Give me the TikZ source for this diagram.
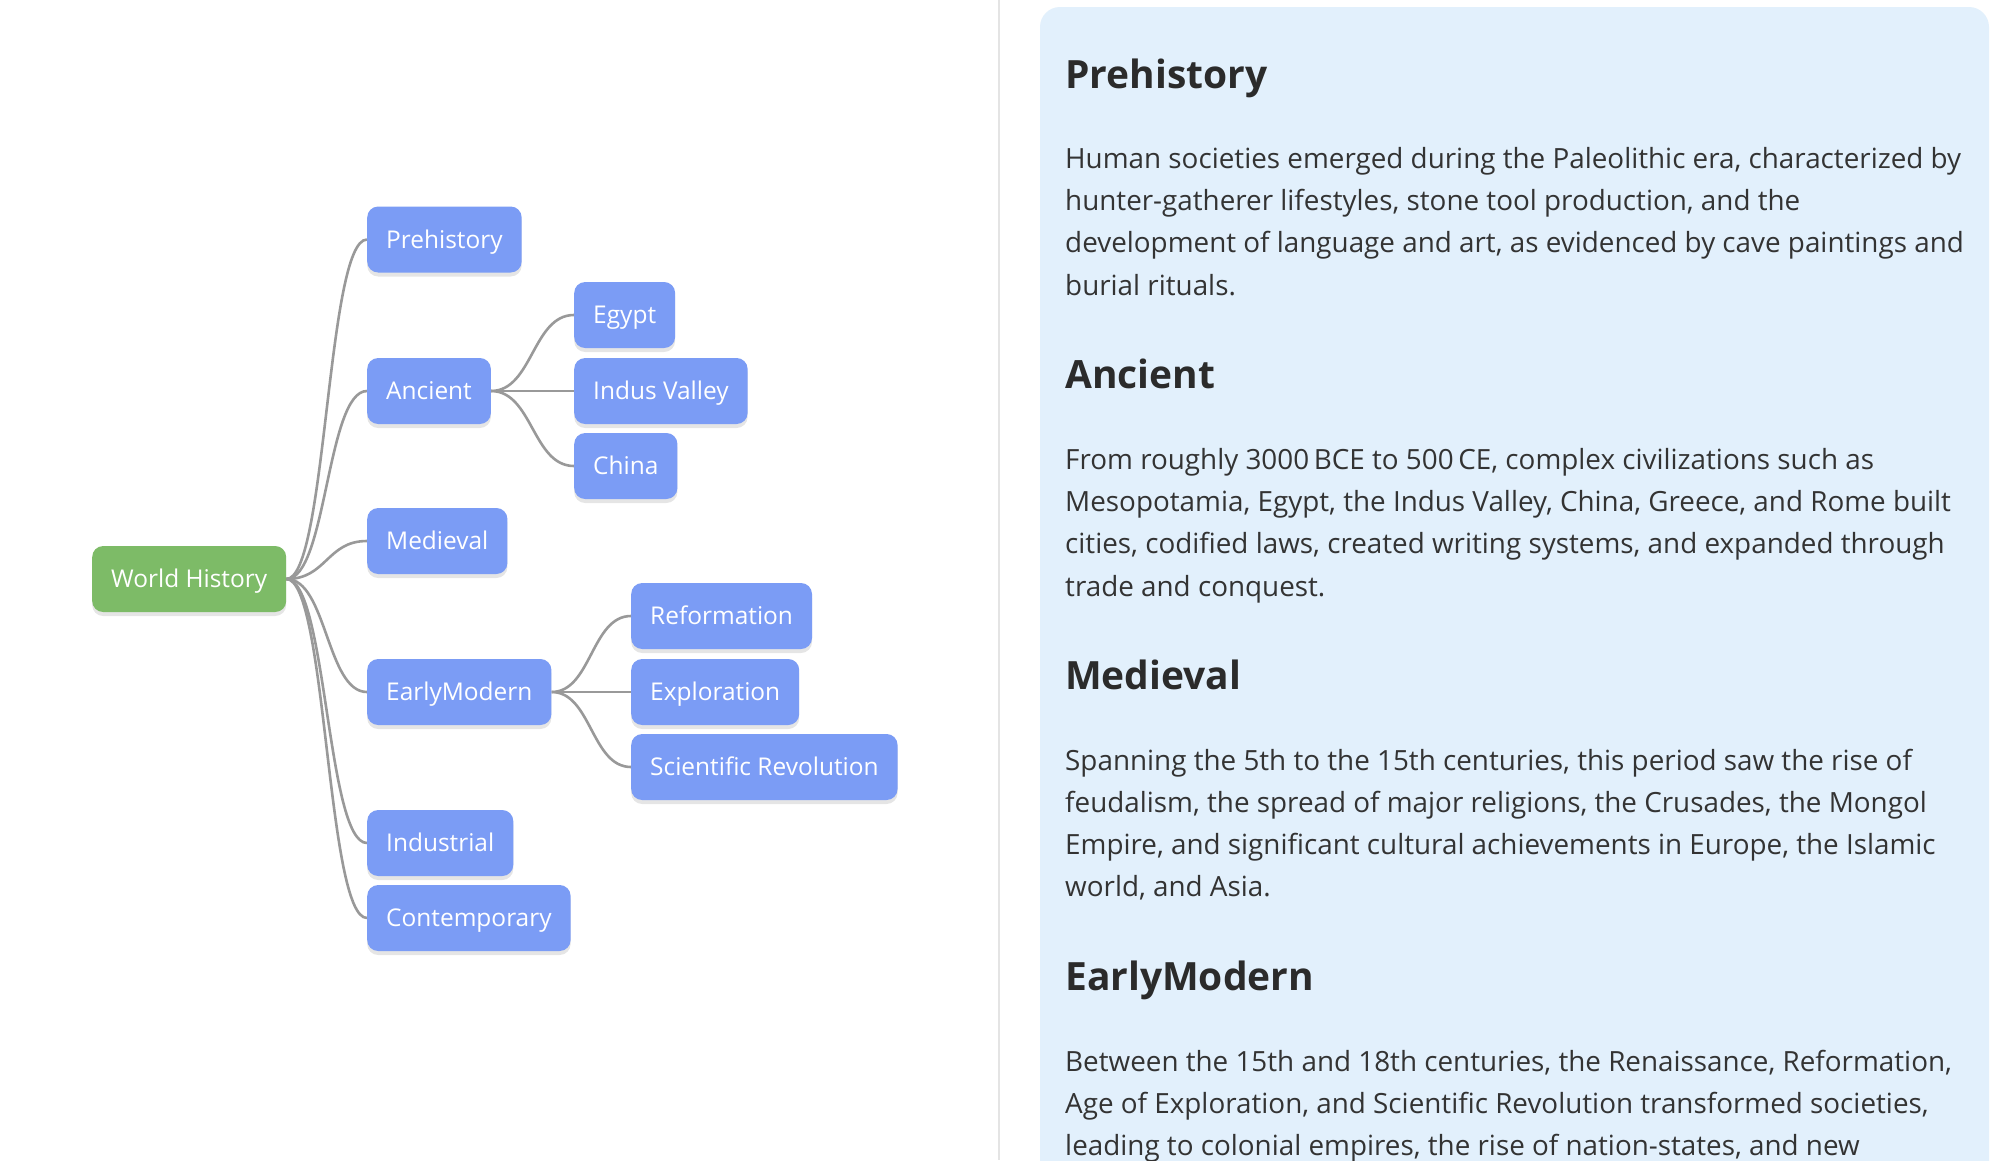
\documentclass[tikz,border=0pt]{standalone}
\usepackage{fontspec}
\setmainfont{Open Sans}
\usetikzlibrary{calc,shadows,backgrounds}
\newlength\mmtmp
\definecolor{nodeblue}{HTML}{7B9CF5}
\definecolor{rootgreen}{HTML}{7DBB67}
\definecolor{panelblue}{HTML}{E2F0FC}
\definecolor{edgegray}{HTML}{999999}
\definecolor{txt}{HTML}{333333}
\definecolor{headc}{HTML}{2B2B2B}
\definecolor{divider}{HTML}{E4E4E4}
\tikzset{
  mmnode/.style={anchor=west, rounded corners=11pt, minimum height=66pt,
    inner xsep=19pt, inner ysep=0pt, text height=\nodecap pt, text depth=0pt,
    text=white, fill=nodeblue, font=\fontsize{\nodesize pt}{\nodesize pt}\selectfont,
    drop shadow={shadow xshift=0pt, shadow yshift=-4pt, opacity=0.10, fill=black}},
  rootnode/.style={mmnode, fill=rootgreen},
  edge/.style={draw=edgegray, line width=2.6pt},
  headtxt/.style={anchor=base west, inner sep=0pt, text=headc,
    font=\fontsize{\headsize pt}{\headsize pt}\selectfont\bfseries},
  bodytxt/.style={anchor=base west, inner sep=0pt, text=txt,
    font=\fontsize{\bodysize pt}{\bodysize pt}\selectfont}
}
\newcommand\mmlink[2]{\draw[edge] let \p1=(#1.east), \p2=(#2.west) in
  (\p1) .. controls ({(\x1+\x2)/2},\y1) and ({(\x1+\x2)/2},\y2) .. (\p2);}
\begin{document}
\settowidth\mmtmp{\fontsize{24pt}{24pt}\selectfont World History}%
\pgfmathsetmacro\nodesize{156/\mmtmp*24}%
\pgfmathsetmacro\nodecap{0.714*\nodesize}%
\settowidth\mmtmp{\fontsize{40pt}{40pt}\selectfont\bfseries Prehistory}%
\pgfmathsetmacro\headsize{202/\mmtmp*40}%
\settowidth\mmtmp{\fontsize{24pt}{24pt}\selectfont Human societies emerged during the Paleolithic era, characterized by}%
\pgfmathsetmacro\bodysize{896/\mmtmp*24}%
\begin{tikzpicture}[x=1pt,y=-1pt]
\useasboundingbox (0,0) rectangle (2000,1160);
\clip (0,0) rectangle (2000,1160);
% divider and panel
\draw[divider, line width=2pt] (999,0) -- (999,1160);
\fill[panelblue, rounded corners=20pt] (1040,7) rectangle (1989,1240);
% mind map nodes
\node[rootnode] (root) at (92,579) {World History};
\node[mmnode] (pre) at (367,239.5) {Prehistory};
\node[mmnode] (anc) at (367,391) {Ancient};
\node[mmnode] (egy) at (574,315) {Egypt};
\node[mmnode] (ind) at (574,391) {Indus Valley};
\node[mmnode] (chi) at (574,466) {China};
\node[mmnode] (med) at (367,541) {Medieval};
\node[mmnode] (em) at (367,692) {EarlyModern};
\node[mmnode] (ref) at (631,616) {Reformation};
\node[mmnode] (exp) at (631,692) {Exploration};
\node[mmnode] (sci) at (631,767) {Scientific Revolution};
\node[mmnode] (ind2) at (367,843) {Industrial};
\node[mmnode] (con) at (367,918) {Contemporary};
\begin{pgfonlayer}{background}
\fill[white] (0,0) rectangle (2000,1160);
\mmlink{root}{pre}
\mmlink{root}{anc}
\mmlink{root}{med}
\mmlink{root}{em}
\mmlink{root}{ind2}
\mmlink{root}{con}
\mmlink{anc}{egy}
\mmlink{anc}{ind}
\mmlink{anc}{chi}
\mmlink{em}{ref}
\mmlink{em}{exp}
\mmlink{em}{sci}
\end{pgfonlayer}
% right panel text
\node[headtxt] (h1) at (1065,88) {Prehistory};
\node[bodytxt] (p1a) at (1065,168) {Human societies emerged during the Paleolithic era, characterized by};
\node[bodytxt] (p1b) at (1065,210.3) {hunter-gatherer lifestyles, stone tool production, and the};
\node[bodytxt] (p1c) at (1065,252.6) {development of language and art, as evidenced by cave paintings and};
\node[bodytxt] (p1d) at (1065,295) {burial rituals.};
\node[headtxt] (h2) at (1065,388) {Ancient};
\node[bodytxt] (p2a) at (1065,469.3) {From roughly 3000\,BCE to 500\,CE, complex civilizations such as};
\node[bodytxt] (p2b) at (1065,511.6) {Mesopotamia, Egypt, the Indus Valley, China, Greece, and Rome built};
\node[bodytxt] (p2c) at (1065,553.9) {cities, codified laws, created writing systems, and expanded through};
\node[bodytxt] (p2d) at (1065,596.2) {trade and conquest.};
\node[headtxt] (h3) at (1065,689) {Medieval};
\node[bodytxt] (p3a) at (1065,770) {Spanning the 5th to the 15th centuries, this period saw the rise of};
\node[bodytxt] (p3b) at (1065,812.3) {feudalism, the spread of major religions, the Crusades, the Mongol};
\node[bodytxt] (p3c) at (1065,854.6) {Empire, and significant cultural achievements in Europe, the Islamic};
\node[bodytxt] (p3d) at (1065,896.9) {world, and Asia.};
\node[headtxt] (h4) at (1065,990) {EarlyModern};
\node[bodytxt] (p4a) at (1065,1071) {Between the 15th and 18th centuries, the Renaissance, Reformation,};
\node[bodytxt] (p4b) at (1065,1113.3) {Age of Exploration, and Scientific Revolution transformed societies,};
\node[bodytxt] (p4c) at (1065,1155.6) {leading to colonial empires, the rise of nation-states, and new};
\end{tikzpicture}
\end{document}
